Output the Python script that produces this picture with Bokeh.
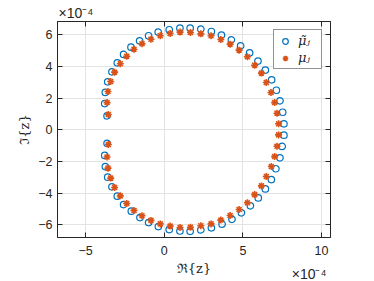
from bokeh.plotting import figure
from bokeh.models import Range1d, LinearAxis, Label, Legend, LegendItem, FixedTicker
from bokeh.embed import file_html
from bokeh.resources import INLINE

# values in units of 1e-4
mu_tilde_re = [-3.63, -3.78, -3.74, -3.59, -3.32, -2.98, -2.58, -2.11, -1.56, -0.99, -0.38, 0.32, 1.00, 1.65,
               2.33, 3.00, 3.64, 4.27, 4.86, 5.43, 5.96, 6.43, 6.83, 7.13, 7.36, 7.53, 7.61,
               7.61, 7.50, 7.36, 7.10, 6.81, 6.43, 5.98, 5.48, 4.91, 4.31, 3.68, 3.00, 2.33, 1.65,
               1.00, 0.32, -0.37, -0.99, -1.54, -2.09, -2.58, -2.98, -3.32, -3.59, -3.74, -3.78, -3.63]
mu_tilde_im = [0.88, 1.66, 2.36, 3.03, 3.66, 4.23, 4.76, 5.22, 5.62, 5.94, 6.17, 6.32, 6.42, 6.42,
               6.36, 6.21, 5.98, 5.68, 5.30, 4.86, 4.34, 3.77, 3.16, 2.50, 1.83, 1.11, 0.38,
               -0.34, -1.05, -1.77, -2.46, -3.14, -3.73, -4.30, -4.80, -5.24, -5.65, -5.96, -6.19, -6.32, -6.41,
               -6.39, -6.30, -6.11, -5.86, -5.54, -5.14, -4.72, -4.19, -3.60, -2.99, -2.32, -1.62, -0.85]

mu_re = [-3.55, -3.63, -3.57, -3.40, -3.15, -2.79, -2.38, -1.92, -1.41, -0.84, -0.25, 0.38, 1.01, 1.67,
         2.33, 2.98, 3.60, 4.19, 4.76, 5.29, 5.75, 6.18, 6.49, 6.79, 7.02, 7.17, 7.27,
         7.27, 7.17, 7.02, 6.81, 6.49, 6.18, 5.75, 5.29, 4.76, 4.19, 3.60, 2.98, 2.33, 1.67,
         1.01, 0.38, -0.25, -0.84, -1.41, -1.92, -2.38, -2.79, -3.15, -3.40, -3.57, -3.63, -3.55]
mu_im = [0.97, 1.72, 2.42, 3.05, 3.64, 4.17, 4.65, 5.09, 5.43, 5.72, 5.94, 6.08, 6.17, 6.15,
         6.06, 5.94, 5.70, 5.41, 5.03, 4.61, 4.08, 3.58, 2.99, 2.36, 1.72, 1.05, 0.38,
         -0.32, -1.04, -1.69, -2.32, -2.95, -3.54, -4.09, -4.61, -5.03, -5.41, -5.70, -5.94, -6.06, -6.15,
         -6.17, -6.08, -5.94, -5.72, -5.43, -5.09, -4.65, -4.17, -3.64, -3.05, -2.42, -1.72, -0.93]

x_ticks = [-5, 0, 5, 10]
y_ticks = [-6, -4, -2, 0, 2, 4, 6]
legend_labels = ["μ̃ⱼ", "μⱼ"]
exponent_text = "×10⁻⁴"

FONT = "Liberation Sans"
TXT = "#262626"

p = figure(width=374, height=280, output_backend="svg", toolbar_location=None,
           x_range=Range1d(-6.78, 10.57), y_range=Range1d(-6.8, 6.84),
           min_border_left=57, min_border_right=44, min_border_top=21, min_border_bottom=43)
p.outline_line_color = TXT
p.outline_line_width = 0.8
p.background_fill_color = "white"

for ax in [p.xaxis[0], p.yaxis[0]]:
    ax.major_tick_in = 5
    ax.major_tick_out = 0
    ax.minor_tick_line_color = None
    ax.axis_line_color = TXT
    ax.major_tick_line_color = TXT
    ax.major_label_text_font = FONT
    ax.major_label_text_font_size = "12.5px"
    ax.major_label_text_color = TXT
    ax.axis_label_text_font = "DejaVu Serif"
    ax.axis_label_text_font_style = "normal"
    ax.axis_label_text_font_size = "13px"
    ax.axis_label_text_color = TXT

p.xaxis[0].ticker = FixedTicker(ticks=x_ticks)
p.yaxis[0].ticker = FixedTicker(ticks=y_ticks)
p.xaxis[0].axis_label = "ℜ{z}"
p.yaxis[0].axis_label = "ℑ{z}"
p.xaxis[0].major_label_standoff = 8
p.xaxis[0].axis_label_standoff = 3
p.yaxis[0].major_label_standoff = 5
p.yaxis[0].axis_label_standoff = 3

for loc, tk in [("right", y_ticks), ("above", x_ticks)]:
    a = LinearAxis(ticker=FixedTicker(ticks=tk), major_label_overrides={t: "" for t in tk},
                   major_tick_in=5, major_tick_out=0, minor_tick_line_color=None,
                   axis_line_color=TXT, major_tick_line_color=TXT, major_label_standoff=0)
    p.add_layout(a, loc)

p.xgrid.ticker = FixedTicker(ticks=x_ticks)
p.ygrid.ticker = FixedTicker(ticks=y_ticks)
p.grid.grid_line_color = "#e3e3e3"
p.grid.grid_line_width = 1

r1 = p.scatter(mu_tilde_re, mu_tilde_im, marker="circle", size=6.5, fill_color=None,
               line_color="#0072BD", line_width=1.2)
r2 = p.scatter(mu_re, mu_im, marker="asterisk", size=7, line_color="#D95319", line_width=1.6)

leg = Legend(items=[LegendItem(label=legend_labels[0], renderers=[r1]),
                    LegendItem(label=legend_labels[1], renderers=[r2])],
             location="top_right", margin=8, padding=3, spacing=2,
             border_line_color=TXT, border_line_width=1,
             label_text_font="DejaVu Serif", label_text_font_style="italic",
             label_text_font_size="13px", label_text_color=TXT,
             glyph_width=16, glyph_height=14, label_standoff=5)
p.add_layout(leg, "center")

p.add_layout(Label(x=0, y=0, x_units="screen", y_units="screen", text=exponent_text,
                   text_font=FONT, text_font_size="14px",
                   text_color=TXT, text_align="left", text_baseline="bottom", y_offset=1, x_offset=1), "above")
p.add_layout(Label(x=0, y=0, x_units="screen", y_units="screen", text=exponent_text,
                   text_font=FONT, text_font_size="14px",
                   text_color=TXT, text_align="right", text_baseline="middle", y_offset=-36, x_offset=-4), "right")

open("out.html", "w").write(file_html(p, INLINE))
